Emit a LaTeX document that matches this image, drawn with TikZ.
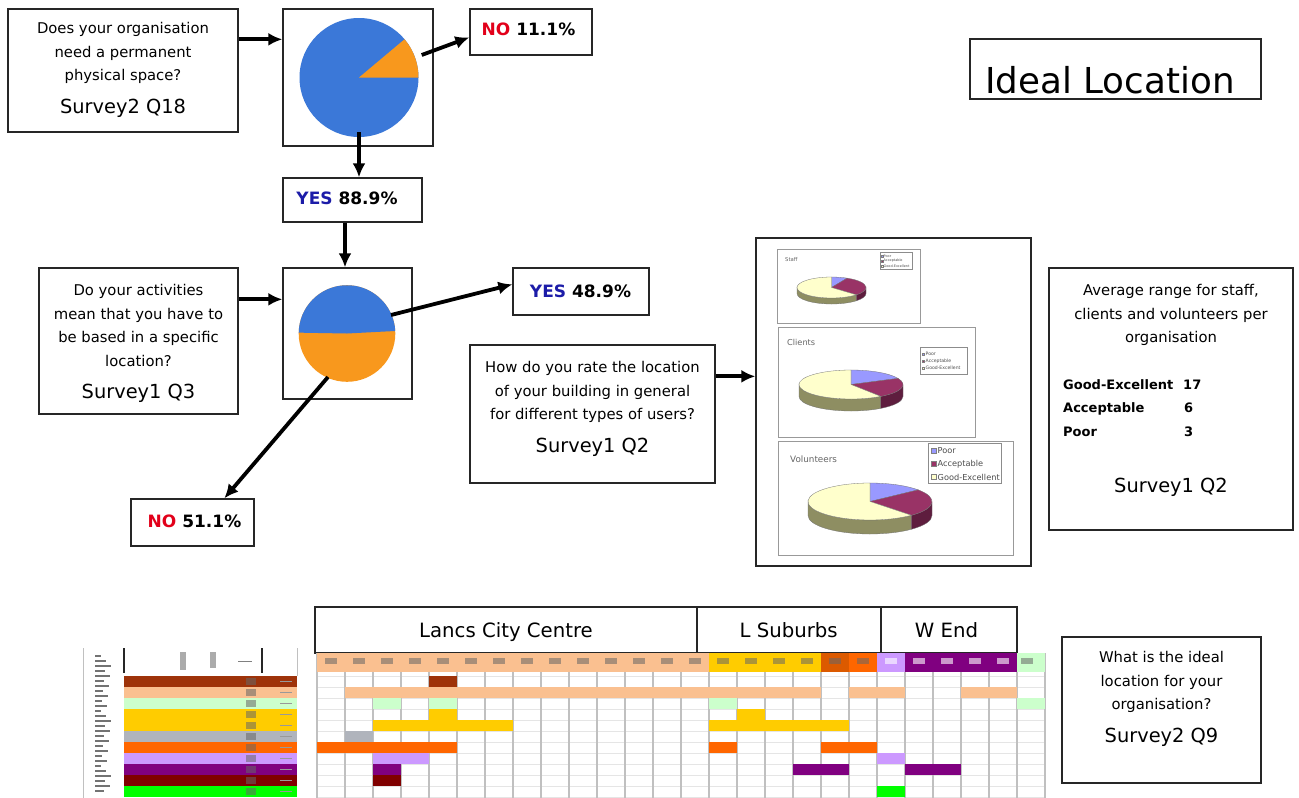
\documentclass[tikz,border=0pt]{standalone}
\usepackage{fontspec}
\setmainfont{DejaVu Sans}
\usepackage{tikz}
\usetikzlibrary{arrows.meta,positioning}
\definecolor{ilBlue}{HTML}{3B78D8}
\definecolor{ilOrange}{HTML}{F8981D}
\definecolor{ilRed}{HTML}{E2001A}
\definecolor{ilNavy}{HTML}{1C1CA8}
\definecolor{ilFrame}{HTML}{262626}
\definecolor{ilPoor}{HTML}{9999FF}
\definecolor{ilAcc}{HTML}{993366}
\definecolor{ilAccSide}{HTML}{5E1D3E}
\definecolor{ilGood}{HTML}{FFFFCC}
\definecolor{ilGoodSide}{HTML}{8E8E62}
\definecolor{tPeach}{HTML}{FAC090}
\definecolor{tBrown}{HTML}{9E330A}
\definecolor{tMint}{HTML}{CCFFCC}
\definecolor{tGold}{HTML}{FFCC00}
\definecolor{tGray}{HTML}{B0B4BC}
\definecolor{tOrange}{HTML}{FF6600}
\definecolor{tLilac}{HTML}{CC99FF}
\definecolor{tPurple}{HTML}{800080}
\definecolor{tMaroon}{HTML}{800000}
\definecolor{tGreen}{HTML}{00FF00}
\definecolor{tRust}{HTML}{DC5A00}
\definecolor{tGrid}{HTML}{C0C0C0}
\newcommand\ilBody{\fontsize{14.8}{23.8}\selectfont}
\newcommand\ilSurvey{\fontsize{19.4}{23}\selectfont}
\newcommand\ilPct{\fontsize{17}{20}\selectfont\bfseries}
\newcommand\ilHead{\fontsize{19.7}{22}\selectfont}
\newcommand\ilList{\fontsize{13}{16}\selectfont\bfseries}
\newcommand\ilTitle{\fontsize{35.7}{40}\selectfont}
\tikzset{
  il diagram/.style={x=1pt, y=-1pt, line join=miter},
  il box/.style={draw=ilFrame, fill=white, line width=1.3pt, inner sep=0pt, rectangle},
  il chart box/.style={draw=black!40, fill=white, line width=0.9pt, inner sep=0pt},
  il key box/.style={draw=black!45, fill=white, line width=0.4pt, inner sep=0pt},
  il text/.style={font=\ilBody, align=center, inner sep=0pt},
  il pct/.style={font=\ilPct, anchor=base, inner sep=0pt},
  il head/.style={font=\ilHead, anchor=base, inner sep=0pt},
  il list/.style={font=\ilList, anchor=base west, inner sep=0pt},
  il caption/.style={text=black!60, anchor=west, inner sep=0pt},
  il key/.style={text=black!70, anchor=west, inner sep=0pt},
  il arrow/.style={-{Latex[length=14pt,width=13pt]}, draw=black, line width=3.8pt},
  il slice/.style={draw=black!55, line width=0.3pt},
  il grid/.style={draw=tGrid, line width=1.4pt},
  il mark/.style={fill=black!60, opacity=0.55}
}
% 3d rating pie: cx, cy, rx, ry, depth, poor/acceptable angle, acceptable/good angle
\newcommand\ilRatePie[7]{%
  \begin{scope}[shift={(#1,#2)}, y=1pt]
    \filldraw[il slice, fill=ilGoodSide] (#7:#3 and #4) arc[start angle=#7, end angle=-180, x radius=#3, y radius=#4]
      -- ++(0,-#5) arc[start angle=-180, end angle=#7, x radius=#3, y radius=#4] -- cycle;
    \filldraw[il slice, fill=ilAccSide] (0:#3 and #4) arc[start angle=0, end angle=#7, x radius=#3, y radius=#4]
      -- ++(0,-#5) arc[start angle=#7, end angle=0, x radius=#3, y radius=#4] -- cycle;
    \filldraw[il slice, fill=ilPoor] (0,0) -- (90:#3 and #4) arc[start angle=90, end angle=#6, x radius=#3, y radius=#4] -- cycle;
    \filldraw[il slice, fill=ilAcc] (0,0) -- (#6:#3 and #4) arc[start angle=#6, end angle=#7, x radius=#3, y radius=#4] -- cycle;
    \filldraw[il slice, fill=ilGood] (0,0) -- (#7:#3 and #4) arc[start angle=#7, end angle=-270, x radius=#3, y radius=#4] -- cycle;
  \end{scope}}
\begin{document}
\begin{tikzpicture}[il diagram]
\fill[white] (0,0) rectangle (1299,798);
\useasboundingbox (0,0) rectangle (1299,798);

% frames
\node[il box, minimum width=230pt, minimum height=123pt] (q18) at (123,70.5) {};
\node[il box, minimum width=150pt, minimum height=137pt] (pie1) at (358,77.5) {};
\node[il box, minimum width=122pt, minimum height=46pt] (no1) at (531,32) {};
\node[il box, minimum width=139pt, minimum height=44pt] (yes1) at (352.5,200) {};
\node[il box, minimum width=199pt, minimum height=146pt] (q3) at (138.5,341) {};
\node[il box, minimum width=129pt, minimum height=131pt] (pie2) at (347.5,333.5) {};
\node[il box, minimum width=136pt, minimum height=47pt] (yes2) at (581,291.5) {};
\node[il box, minimum width=123pt, minimum height=47pt] (no2) at (192.5,522.5) {};
\node[il box, minimum width=245pt, minimum height=138pt] (q2) at (592.5,414) {};
\node[il box, minimum width=275pt, minimum height=328pt] (charts) at (893.5,402) {};
\node[il box, minimum width=244pt, minimum height=262pt] (avg) at (1171,399) {};
\node[il box, minimum width=291pt, minimum height=60pt] (title) at (1115.5,69) {};
\node[il box, minimum width=199pt, minimum height=146pt] (q9) at (1161.5,710) {};

% texts
\node[il text] (q18t) at (123,69.7) {Does your organisation\\need a permanent\\physical space?\\[8.5pt]{\ilSurvey Survey2 Q18}};
\node[il text] (q3t) at (138.5,343.5) {Do your activities\\mean that you have to\\be based in a specific\\location?\\[8.5pt]{\ilSurvey Survey1 Q3}};
\node[il text] (q2t) at (592.5,408.6) {How do you rate the location\\of your building in general\\for different types of users?\\[8.5pt]{\ilSurvey Survey1 Q2}};
\node[il text] (q9t) at (1161.5,698.7) {What is the ideal\\location for your\\organisation?\\[8.5pt]{\ilSurvey Survey2 Q9}};
\node[il text] (avgt) at (1171,315) {Average range for staff,\\clients and volunteers per\\organisation};
\node[il list] (ge) at (1063,389) {Good-Excellent};
\node[il list] (ac) at (1063,412) {Acceptable};
\node[il list] (po) at (1063,436) {Poor};
\node[il list] (gen) at (1183,389) {17};
\node[il list] (acn) at (1184,412) {6};
\node[il list] (pon) at (1184,436) {3};
\node[il head, font=\ilSurvey] (avgs) at (1171,492) {Survey1 Q2};
\node[il head, font=\ilTitle] (titlet) at (1110,93) {Ideal Location};
\node[il pct] (no1t) at (528.5,35.5) {\textcolor{ilRed}{NO} 11.1\%};
\node[il pct] (yes1t) at (347,204) {\textcolor{ilNavy}{YES} 88.9\%};
\node[il pct] (yes2t) at (580.5,297) {\textcolor{ilNavy}{YES} 48.9\%};
\node[il pct] (no2t) at (194.5,527) {\textcolor{ilRed}{NO} 51.1\%};

% flow pies
\begin{scope}[shift={(359,77.5)}, y=1pt]
  \fill[ilBlue] (0,0) circle (59.5);
  \fill[ilOrange] (0,0) -- (0:59.5) arc[start angle=0, end angle=40, radius=59.5] -- cycle;
\end{scope}
\begin{scope}[shift={(347,333.5)}, y=1pt]
  \fill[ilOrange] (0,0) circle (48.3);
  \fill[ilBlue] (0,0) -- (3:48.3) arc[start angle=3, end angle=179, radius=48.3] -- cycle;
\end{scope}

% connectors
\coordinate (q18out) at ([yshift=-31pt]q18.north east);
\coordinate (p1out) at (421.7,55);
\coordinate (p1bot) at (359,132);
\coordinate (y1low) at ([xshift=-7.5pt]yes1.south);
\coordinate (q3out) at ([yshift=-32pt]q3.north east);
\coordinate (p2out) at (391,315);
\coordinate (p2low) at (328,377);
\coordinate (q2out) at ([yshift=-32pt]q2.north east);
\draw[il arrow] (q18out) -- (q18out -| pie1.west);
\draw[il arrow] (p1out) -- ([yshift=-29pt]no1.north west);
\draw[il arrow] (p1bot) -- (p1bot |- yes1.north);
\draw[il arrow] (y1low) -- (y1low |- pie2.north);
\draw[il arrow] (q3out) -- (q3out -| pie2.west);
\draw[il arrow] (p2out) -- ([yshift=-17pt]yes2.north west);
\draw[il arrow] (p2low) -- ([xshift=94pt]no2.north west);
\draw[il arrow] (q2out) -- (q2out -| charts.west);

% rating charts
\node[il chart box, minimum width=143pt, minimum height=74pt] (staffbox) at (848.5,286) {};
\node[il chart box, minimum width=197pt, minimum height=110pt] (clientbox) at (876.5,382) {};
\node[il chart box, minimum width=235pt, minimum height=114pt] (volbox) at (895.5,498) {};
\node[il caption, font=\fontsize{5.3}{6}\selectfont] (stafft) at (785,260) {Staff};
\node[il caption, font=\fontsize{8.2}{9}\selectfont] (clientt) at (787,342) {Clients};
\node[il caption, font=\fontsize{8.8}{10}\selectfont] (volt) at (790,459) {Volunteers};
\node[il key box, minimum width=32pt, minimum height=17pt] (staffkey) at (896,260.5) {};
\node[il key box, minimum width=47pt, minimum height=27pt] (clientkey) at (943.5,360.5) {};
\node[il key box, minimum width=73pt, minimum height=40pt] (volkey) at (964.5,463) {};
\foreach \lbl/\col [count=\i] in {Poor/ilPoor,Acceptable/ilAcc,Good-Excellent/ilGood} {
  \filldraw[fill=\col, draw=black!50, line width=0.2pt] (881.5,{250.1+5*\i}) rectangle ++(1.8,1.8);
  \node[il key, font=\fontsize{3.4}{4}\selectfont] (skey\i) at (883.5,{251+5*\i}) {\lbl};
  \filldraw[fill=\col, draw=black!50, line width=0.25pt] (922,{345.7+7*\i}) rectangle ++(2.6,2.6);
  \node[il key, font=\fontsize{4.6}{5}\selectfont] (ckey\i) at (925.5,{347+7*\i}) {\lbl};
  \filldraw[fill=\col, draw=black!50, line width=0.3pt] (931,{435.5+13*\i}) rectangle ++(5,5);
  \node[il key, font=\fontsize{8.2}{9}\selectfont] (vkey\i) at (937.5,{438+13*\i}) {\lbl};
}
\ilRatePie{831.5}{287.5}{34.5}{10.5}{6}{63}{-44}
\ilRatePie{851}{384.5}{52}{14.5}{12}{25}{-55}
\ilRatePie{870}{501.5}{62}{18.5}{14}{39}{-48}

% location table
\node[il box, minimum width=382pt, minimum height=46pt] (lancs) at (506,630) {};
\node[il box, minimum width=184pt, minimum height=46pt] (suburbs) at (789,630) {};
\node[il box, minimum width=136pt, minimum height=46pt] (wend) at (949,630) {};
\node[il head] (lancst) at (506,637) {Lancs City Centre};
\node[il head] (suburbst) at (788.7,637) {L Suburbs};
\node[il head] (wendt) at (946.5,637) {W End};
\foreach \r in {0,...,11}
  \draw[black!10, line width=0.4pt] (317,{676+11*\r}) -- (1045,{676+11*\r});
\foreach \c in {0,...,26}
  \draw[il grid] ({317+28*\c},653) -- ({317+28*\c},798);
\foreach \a/\b/\col in {0/13/tPeach,14/17/tGold,18/18/tRust,19/19/tOrange,20/20/tLilac,21/24/tPurple,25/25/tMint}
  \fill[\col] ({317+28*\a},653) rectangle ({345+28*\b},672);
\foreach \c in {0,...,19}
  \fill[il mark] ({325+28*\c},658) rectangle ++(12,6);
\foreach \c in {20,...,24}
  \fill[white, opacity=0.6] ({325+28*\c},658) rectangle ++(12,6);
\fill[il mark] (1033,658) rectangle ++(-12,6);
\foreach \r/\a/\b/\col in {1/4/4/tBrown,2/1/17/tPeach,2/19/20/tPeach,2/23/24/tPeach,
    3/2/2/tMint,3/4/4/tMint,3/14/14/tMint,3/25/25/tMint,4/4/4/tGold,4/15/15/tGold,
    5/2/6/tGold,5/14/18/tGold,6/1/1/tGray,7/0/4/tOrange,7/14/14/tOrange,7/18/19/tOrange,
    8/2/3/tLilac,8/20/20/tLilac,9/2/2/tPurple,9/17/18/tPurple,9/21/22/tPurple,
    10/2/2/tMaroon,11/20/20/tGreen}
  \fill[\col] ({317+28*\a},{665+11*\r}) rectangle ({345+28*\b},{676+11*\r});

% organisation rows
\draw[tGrid, line width=1pt] (83,648) -- (83,798);
\draw[tGrid, line width=1pt] (297,648) -- (297,676);
\draw[ilFrame, line width=1.5pt] (124,648) -- (124,673);
\draw[ilFrame, line width=1.5pt] (262,648) -- (262,673);
\fill[il mark] (180,652) rectangle (186,670);
\fill[il mark] (210,652) rectangle (216,668);
\draw[black!50] (238,661) -- (252,661);
\foreach \k in {0,...,27}
  \fill[black!55] (95,{655+5*\k}) rectangle ++({6+mod(5*\k,11)},2.4);
\foreach \r/\col in {1/tBrown,2/tPeach,3/tMint,4/tGold,5/tGold,6/tGray,7/tOrange,8/tLilac,9/tPurple,10/tMaroon,11/tGreen}
  \fill[\col] (124,{665+11*\r}) rectangle (297,{676+11*\r});
\foreach \r in {1,...,11} {
  \fill[il mark] (246,{667+11*\r}) rectangle ++(10,7);
  \draw[black!40] (280,{670.5+11*\r}) -- ++(12,0);
}
\end{tikzpicture}
\end{document}
